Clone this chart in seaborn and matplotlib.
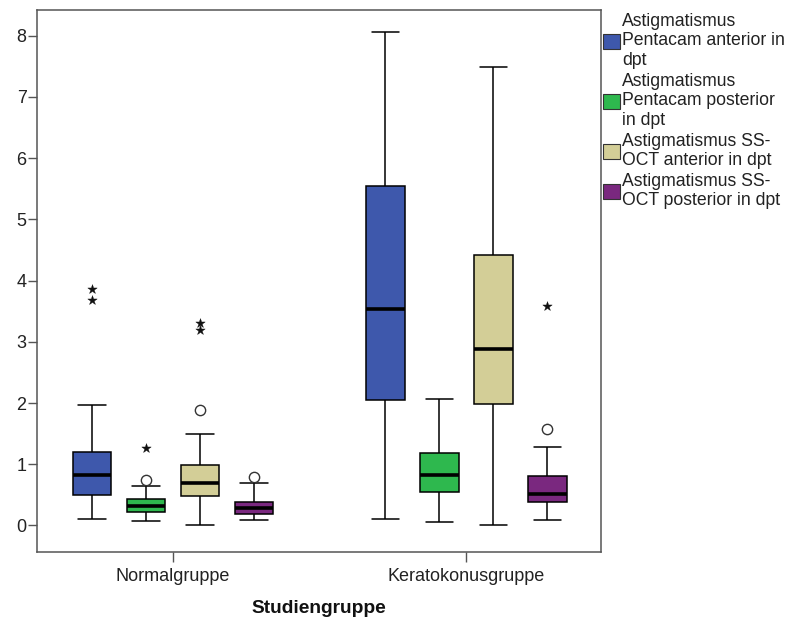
import numpy as np
import pandas as pd
import matplotlib
matplotlib.use("Agg")
import matplotlib.pyplot as plt
from matplotlib.patches import Patch
import seaborn as sns

# Study groups and measured series
groups = ["Normalgruppe", "Keratokonusgruppe"]
series = [
    "Astigmatismus Pentacam anterior in dpt",
    "Astigmatismus Pentacam posterior in dpt",
    "Astigmatismus SS-OCT anterior in dpt",
    "Astigmatismus SS-OCT posterior in dpt",
]
legend_labels = [
    "Astigmatismus\nPentacam anterior in\ndpt",
    "Astigmatismus\nPentacam posterior\nin dpt",
    "Astigmatismus SS-\nOCT anterior in dpt",
    "Astigmatismus SS-\nOCT posterior in dpt",
]
colors = ["#3E58AC", "#2EB84E", "#D3CE97", "#7A287F"]

# Box statistics per group (rows) and series (columns)
whisker_low = [[0.10, 0.08, 0.00, 0.09],
               [0.11, 0.05, 0.00, 0.09]]
quartile_1 = [[0.49, 0.22, 0.48, 0.19],
              [2.05, 0.54, 1.99, 0.39]]
median = [[0.82, 0.32, 0.69, 0.29],
          [3.54, 0.82, 2.89, 0.52]]
quartile_3 = [[1.20, 0.44, 0.99, 0.39],
              [5.54, 1.18, 4.42, 0.81]]
whisker_high = [[1.96, 0.64, 1.49, 0.69],
                [8.06, 2.06, 7.49, 1.29]]

# Outliers (o) and extreme values (*): group index, series index, value
outlier_group = [0, 0, 0, 0, 0, 0, 0, 0, 1, 1]
outlier_series = [0, 0, 1, 1, 2, 2, 2, 3, 3, 3]
outlier_value = [3.86, 3.68, 0.75, 1.26, 1.88, 3.30, 3.19, 0.79, 1.58, 3.59]
outlier_kind = ["*", "*", "o", "*", "o", "*", "*", "o", "o", "*"]

rows = []
for gi, g in enumerate(groups):
    for si, s in enumerate(series):
        for v in (whisker_low[gi][si], quartile_1[gi][si], median[gi][si],
                  quartile_3[gi][si], whisker_high[gi][si]):
            rows.append({"Studiengruppe": g, "Serie": s, "Wert": v})
df = pd.DataFrame(rows)

sns.set_style("white")
plt.rcParams["font.family"] = ["Liberation Sans", "DejaVu Sans"]

fig = plt.figure(figsize=(7.96, 6.19), dpi=100)
ax = fig.add_axes([37 / 796, 1 - 552 / 619, (601 - 37) / 796, (552 - 10) / 619])

width = 0.737
gap = 0.28
sns.boxplot(
    data=df, x="Studiengruppe", y="Wert", hue="Serie",
    order=groups, hue_order=series, palette=colors, saturation=1,
    width=width, gap=gap, whis=(0, 100), showfliers=False,
    linecolor="black", linewidth=1.1,
    medianprops={"color": "black", "linewidth": 2.6},
    legend=False, ax=ax,
)

# Dodge offsets of the hue levels inside each group
each = width / len(series)
offsets = np.linspace(0, width - each, len(series))
offsets -= offsets.mean()
box_w = each * (1 - gap)

# Widen the whisker caps to ~70% of the box width
for ln in ax.lines:
    xd = np.asarray(ln.get_xdata(), dtype=float)
    yd = np.asarray(ln.get_ydata(), dtype=float)
    if len(xd) == 2 and np.isclose(yd[0], yd[1]):
        span = abs(xd[1] - xd[0])
        if 0 < span < 0.9 * box_w:
            c = xd.mean()
            ln.set_xdata([c - 0.35 * box_w, c + 0.35 * box_w])

out = pd.DataFrame({
    "pos": [outlier_group[i] + offsets[outlier_series[i]] for i in range(len(outlier_value))],
    "Wert": outlier_value,
    "Art": outlier_kind,
})
circ = out[out["Art"] == "o"]
star = out[out["Art"] == "*"]
sns.scatterplot(data=circ, x="pos", y="Wert", marker="o", s=55,
                facecolor="white", edgecolor="#333333", linewidth=1.0,
                zorder=5, ax=ax, legend=False)
sns.scatterplot(data=star, x="pos", y="Wert", marker="*", s=50,
                color="#111111", edgecolor="#111111", linewidth=0.3,
                zorder=5, ax=ax, legend=False)

ax.set_xlim(-0.464, 1.46)
ax.set_ylim(-0.433, 8.42)
ax.set_yticks(range(0, 9))
ax.set_xticks([0, 1])
ax.set_xticklabels(groups)
ax.set_ylabel("")
ax.set_xlabel("Studiengruppe", fontsize=13.8, fontweight="bold",
              color="#111111", labelpad=11)

for sp in ax.spines.values():
    sp.set_visible(True)
    sp.set_color("#555555")
    sp.set_linewidth(1.1)
ax.tick_params(axis="both", direction="out", width=1, color="#555555",
               labelsize=13, labelcolor="#222222", left=True, bottom=True)
ax.tick_params(axis="y", length=6.5, pad=1)
ax.tick_params(axis="x", length=7.5, pad=4)

handles = [Patch(facecolor=c, edgecolor="#333333", linewidth=0.8) for c in colors]
leg = fig.legend(handles, legend_labels, loc="upper left",
                 bbox_to_anchor=(603 / 796, 1 - 13 / 619),
                 frameon=False, fontsize=12.7, borderpad=0, borderaxespad=0,
                 handlelength=0.95, handleheight=0.9, handletextpad=0.15,
                 labelspacing=0.22)
for t in leg.get_texts():
    t.set_color("#222222")
    t.set_linespacing(1.19)

fig.savefig("out.png", dpi=100)
